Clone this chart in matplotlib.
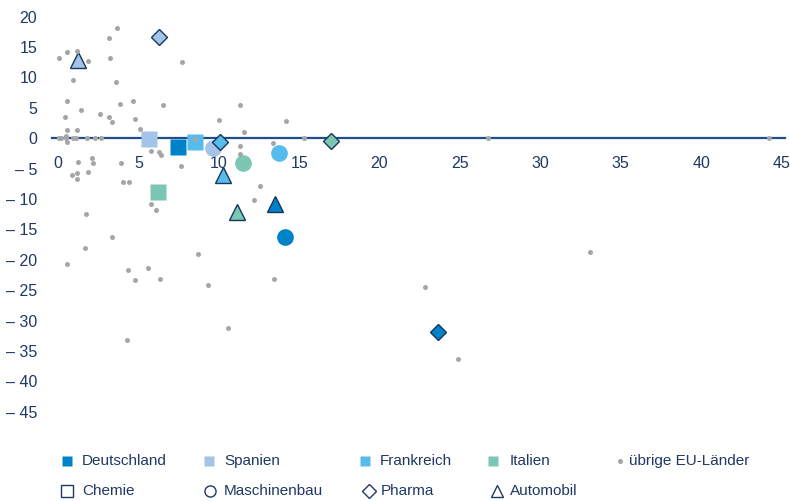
import matplotlib
matplotlib.use("Agg")
import matplotlib.pyplot as plt
from matplotlib.lines import Line2D

plt.rcParams['font.family'] = ['Liberation Sans', 'DejaVu Sans']

# Farben je Land
COL_DE = "#0082c8"
COL_ES = "#a3c3e8"
COL_FR = "#55bcec"
COL_IT = "#7cc6b4"
COL_REST = "#a6a6a6"
NAVY = "#1f3864"
AXIS = "#1f4e8c"

laender = ["Deutschland", "Spanien", "Frankreich", "Italien"]
farben = [COL_DE, COL_ES, COL_FR, COL_IT]

# Branchen-Werte je Land (x, y)
chemie_x = [7.44, 5.67, 8.54, 6.20]
chemie_y = [-1.45, -0.18, -0.68, -8.9]
maschinen_x = [14.12, 9.66, 13.76, 11.49]
maschinen_y = [-16.2, -1.66, -2.5, -4.0]
pharma_x = [23.65, 6.30, 10.07, 16.98]
pharma_y = [-31.9, 16.7, -0.6, -0.46]
auto_x = [13.52, 1.27, 10.28, 11.15]
auto_y = [-10.85, 12.8, -6.0, -12.1]

# uebrige EU-Laender
rest_x = [3.65, 3.14, 0.06, 0.58, 1.17, 1.88, 3.26, 0.96, 3.59, 0.58, 1.41, 2.63, 3.84,
          4.67, 6.51, 0.45, 3.14, 3.33, 4.81, 5.07, 0.57, 1.17, 0.05, 0.20, 0.47, 0.47,
          0.57, 0.92, 1.09, 1.79, 2.31, 2.70, 5.81, 6.29, 6.42, 1.27, 2.10, 2.19, 3.90,
          0.84, 1.15, 1.15, 1.88, 4.05, 4.43, 5.77, 6.08, 1.73, 3.33, 1.67, 0.53, 4.37,
          5.57, 4.80, 6.33, 8.72, 9.30, 12.22, 13.45, 10.56, 4.30, 7.74, 11.33, 10.04,
          14.21, 11.54, 8.53, 11.33, 11.33, 13.37, 15.30, 7.68, 12.55, 26.77, 44.25,
          33.10, 22.80, 24.85]
rest_y = [18.2, 16.4, 13.2, 14.2, 14.4, 12.7, 13.2, 9.5, 9.3, 6.1, 4.7, 4.0, 5.7,
          6.1, 5.5, 3.5, 3.5, 2.6, 3.2, 1.5, 1.3, 1.3, 0.0, 0.0, 0.4, 0.0,
          -0.6, 0.0, 0.0, 0.0, 0.1, 0.0, -2.1, -2.3, -2.8, -3.9, -3.3, -4.0, -4.1,
          -6.0, -5.8, -6.7, -5.6, -7.2, -7.2, -10.8, -11.8, -12.4, -16.3, -18.0, -20.7, -21.7,
          -21.4, -23.3, -23.1, -19.1, -24.1, -10.2, -23.1, -31.2, -33.2, 12.5, 5.5, 3.0,
          2.8, 1.1, -0.2, -1.25, -2.6, -0.8, 0.0, -4.6, -7.9, 0.0, 0.0,
          -18.7, -24.4, -36.3]

x_ticks = [0, 5, 10, 15, 20, 25, 30, 35, 40, 45]
y_ticks = [20, 15, 10, 5, 0, -5, -10, -15, -20, -25, -30, -35, -40, -45]

fig = plt.figure(figsize=(7.9, 5.01), dpi=100)
ax = fig.add_axes([0.0653, 0.1537, 0.928, 0.8253])
ax.set_xlim(-0.4, 45.2)
ax.set_ylim(-47, 21)

for s in ["top", "right", "left"]:
    ax.spines[s].set_visible(False)
ax.spines["bottom"].set_position(("data", 0))
ax.spines["bottom"].set_color(AXIS)
ax.spines["bottom"].set_linewidth(1.6)
ax.spines["bottom"].set_zorder(1)

ax.set_xticks(x_ticks)
ax.set_xticklabels([str(v) for v in x_ticks])
ax.set_yticks(y_ticks)
ax.set_yticklabels([str(v) if v >= 0 else "\u2013 " + str(-v) for v in y_ticks])
ax.tick_params(axis="x", length=0, pad=13, labelsize=11.5, labelcolor=NAVY)
ax.tick_params(axis="y", length=0, pad=10.5, labelsize=11.5, labelcolor=NAVY)

kant = "#17365d"
for i in range(4):
    ax.plot(chemie_x[i], chemie_y[i], "s", ms=12, color=farben[i], mec="none", zorder=3)
for i in range(4):
    ax.plot(maschinen_x[i], maschinen_y[i], "o", ms=12, color=farben[i], mec="none", zorder=4)
for i in range(4):
    ax.plot(pharma_x[i], pharma_y[i], "D", ms=8.2, color=farben[i], mec=kant, mew=1.0, zorder=5)
for i in range(4):
    ax.plot(auto_x[i], auto_y[i], "^", ms=12, color=farben[i], mec=kant, mew=1.0, zorder=6)

ax.plot(rest_x, rest_y, "o", ms=3.6, color=COL_REST, mec="none", ls="none", zorder=7,
        clip_on=False)

# Legende (manuell, zwei Zeilen)
W, H = 790.0, 501.0
zeile1 = [(67, "s", COL_DE, "none", "Deutschland", 82),
          (209, "s", COL_ES, "none", "Spanien", 224),
          (365, "s", COL_FR, "none", "Frankreich", 380),
          (493, "s", COL_IT, "none", "Italien", 510)]
for mx, mk, fc, ec, txt, tx in zeile1:
    fig.add_artist(Line2D([mx / W], [1 - 461 / H], marker=mk, ms=7.6, color=fc, mec=ec,
                          ls="none", transform=fig.transFigure))
    fig.text(tx / W, 1 - 461 / H, txt, fontsize=11, color=NAVY, va="center", ha="left")
fig.add_artist(Line2D([620 / W], [1 - 461 / H], marker="o", ms=3.6, color=COL_REST,
                      mec="none", ls="none", transform=fig.transFigure))
fig.text(629 / W, 1 - 461 / H, "übrige EU-Länder", fontsize=11, color=NAVY,
         va="center", ha="left")

zeile2 = [(67, "s", 8.2, "Chemie", 82),
          (210, "o", 8.0, "Maschinenbau", 224),
          (369, "D", 7.5, "Pharma", 381),
          (497, "^", 8.0, "Automobil", 510)]
for mx, mk, ms, txt, tx in zeile2:
    fig.add_artist(Line2D([mx / W], [1 - 491 / H], marker=mk, ms=ms, color="white",
                          mec=NAVY, mew=1.0, ls="none", transform=fig.transFigure))
    fig.text(tx / W, 1 - 491 / H, txt, fontsize=11, color=NAVY, va="center", ha="left")

fig.savefig("out.png", dpi=100)
